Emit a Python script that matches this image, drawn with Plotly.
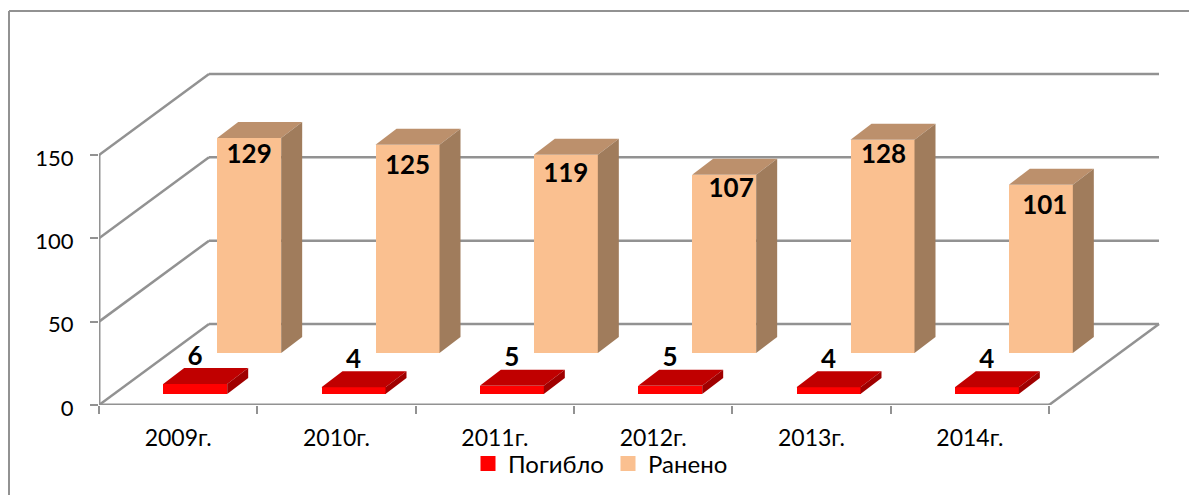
import plotly.graph_objects as go

categories = ["2009г.", "2010г.", "2011г.", "2012г.", "2013г.", "2014г."]
killed = [6, 4, 5, 5, 4, 4]
wounded = [129, 125, 119, 107, 128, 101]
value_ticks = [0, 50, 100, 150]

# --- pixel layout of the pseudo-3D box ---
L, R, T, B = 99, 1163, 70, 405
W, H = 1189, 495
PX_X = (1049 - 99) / 6      # px per category
PX_Y = 250 / 150            # px per value unit
def dxu(px): return px / PX_X
def dyu(px): return px / PX_Y

FONT = "Lato, Carlito, Calibri, 'Noto Sans', sans-serif"
GRID = "#929292"
BAR_W = dxu(64)
DEPTH_X, DEPTH_Y = dxu(21), dyu(16)
WALL_X, WALL_Y = dxu(110), dyu(81)
XMIN = -0.5
XMAX = len(categories) - 0.5

def make_series(values, shift_px, lift_px, front, top, side):
    xs = [i + dxu(shift_px) for i in range(len(values))]
    base = dyu(lift_px)
    traces = [go.Bar(x=xs, y=values, base=[base] * len(values), width=BAR_W, showlegend=False,
                     marker=dict(color=front, line=dict(width=0)), hoverinfo="skip")]
    for x, v in zip(xs, values):
        x0, x1 = x - BAR_W / 2, x + BAR_W / 2
        y1 = base + v
        traces.append(go.Scatter(
            x=[x0, x1, x1 + DEPTH_X, x0 + DEPTH_X, x0],
            y=[y1, y1, y1 + DEPTH_Y, y1 + DEPTH_Y, y1],
            mode="lines", fill="toself", fillcolor=top, line=dict(width=0),
            showlegend=False, hoverinfo="skip"))
        traces.append(go.Scatter(
            x=[x1, x1 + DEPTH_X, x1 + DEPTH_X, x1, x1],
            y=[base, base + DEPTH_Y, y1 + DEPTH_Y, y1, base],
            mode="lines", fill="toself", fillcolor=side, line=dict(width=0),
            showlegend=False, hoverinfo="skip"))
    return traces, xs, base

fig = go.Figure()
red, red_x, red_base = make_series(killed, 17, 11, "#ff0000", "#c00000", "#a00000")
peach, peach_x, peach_base = make_series(wounded, 71, 52, "#fac090", "#bc906c", "#a07c5c")
for t in red + peach:
    fig.add_trace(t)

# legend keys
for name, color in [("Погибло", "#ff0000"), ("Ранено", "#fac090")]:
    fig.add_trace(go.Scatter(x=[None], y=[None], mode="markers", name=name,
                             marker=dict(symbol="square", size=15, color=color, line=dict(width=0))))

# data labels
label_font = dict(family=FONT, size=26, color="black", weight="bold")
fig.add_trace(go.Scatter(
    x=red_x,
    y=[red_base + v + DEPTH_Y + dyu(10) for v in killed],
    mode="text", text=[str(v) for v in killed], textfont=label_font,
    textposition="middle center", showlegend=False, hoverinfo="skip"))
nudge_x = [0, 0, 0, 7, 1, 4]
nudge_y = [18, 23, 21, 16, 17, 23]
fig.add_trace(go.Scatter(
    x=[x + dxu(n) for x, n in zip(peach_x, nudge_x)],
    y=[peach_base + v - dyu(n) for v, n in zip(wounded, nudge_y)],
    mode="text", text=[str(v) for v in wounded], textfont=label_font,
    textposition="middle center", showlegend=False, hoverinfo="skip"))

# walls and axes, as shapes beneath the bars
shapes = []
def seg(x0, y0, x1, y1, width=2.5):
    shapes.append(dict(type="line", xref="x", yref="y", x0=x0, y0=y0, x1=x1, y1=y1,
                       layer="below", line=dict(color=GRID, width=width)))
for v in value_ticks:
    seg(XMIN, v, XMIN + WALL_X, v + WALL_Y)
    seg(XMIN + WALL_X, v + WALL_Y, XMAX + WALL_X, v + WALL_Y)
seg(XMIN, 0, XMIN, value_ticks[-1], 3)
seg(XMIN, 0, XMAX, 0, 3)
seg(XMAX, 0, XMAX + WALL_X, WALL_Y)

# chart-area frame
def pxx(p): return (p - L) / (R - L)
def pxy(p): return (B - p) / (B - T)
frame = "#929292"
for (a, b, c, d) in [(9, 11, 1189, 11), (9, 11, 9, 495)]:
    shapes.append(dict(type="line", xref="paper", yref="paper",
                       x0=pxx(a), y0=pxy(b), x1=pxx(c), y1=pxy(d),
                       layer="below", line=dict(color=frame, width=2)))

fig.update_layout(
    width=W, height=H, autosize=False,
    margin=dict(l=L, r=W - R, t=T, b=H - B, pad=0, autoexpand=False),
    paper_bgcolor="white", plot_bgcolor="white",
    barmode="overlay", bargap=0,
    shapes=shapes,
    font=dict(family=FONT, size=22, color="black"),
    xaxis=dict(range=[XMIN, XMIN + (R - L) / PX_X], tickmode="array",
               tickvals=list(range(len(categories))), ticktext=categories,
               showgrid=False, zeroline=False, showline=False, ticks="", ticklen=0,
               tickfont=dict(family=FONT, size=23), automargin=False, ticklabelstandoff=17,
               minor=dict(tickmode="array", tickvals=[XMIN + i for i in range(len(categories) + 1)],
                          ticks="outside", ticklen=8, tickwidth=2, tickcolor=GRID, showgrid=False)),
    yaxis=dict(range=[0, (B - T) / PX_Y], tickmode="array", tickvals=value_ticks,
               showgrid=False, zeroline=False, showline=False, ticks="outside", ticklen=8,
               tickwidth=2, tickcolor=GRID, tickfont=dict(family=FONT, size=22), automargin=False,
               ticklabelstandoff=12, ticklabelshift=3),
    legend=dict(orientation="h", x=pxx(468), xanchor="left", y=pxy(464), yanchor="middle",
                bgcolor="rgba(0,0,0,0)", font=dict(family=FONT, size=24),
                traceorder="normal", itemwidth=30, entrywidth=95, entrywidthmode="pixels"),
)

fig.write_html("out.html", config={"displayModeBar": False},
               post_script="document.body.style.margin='0';")
